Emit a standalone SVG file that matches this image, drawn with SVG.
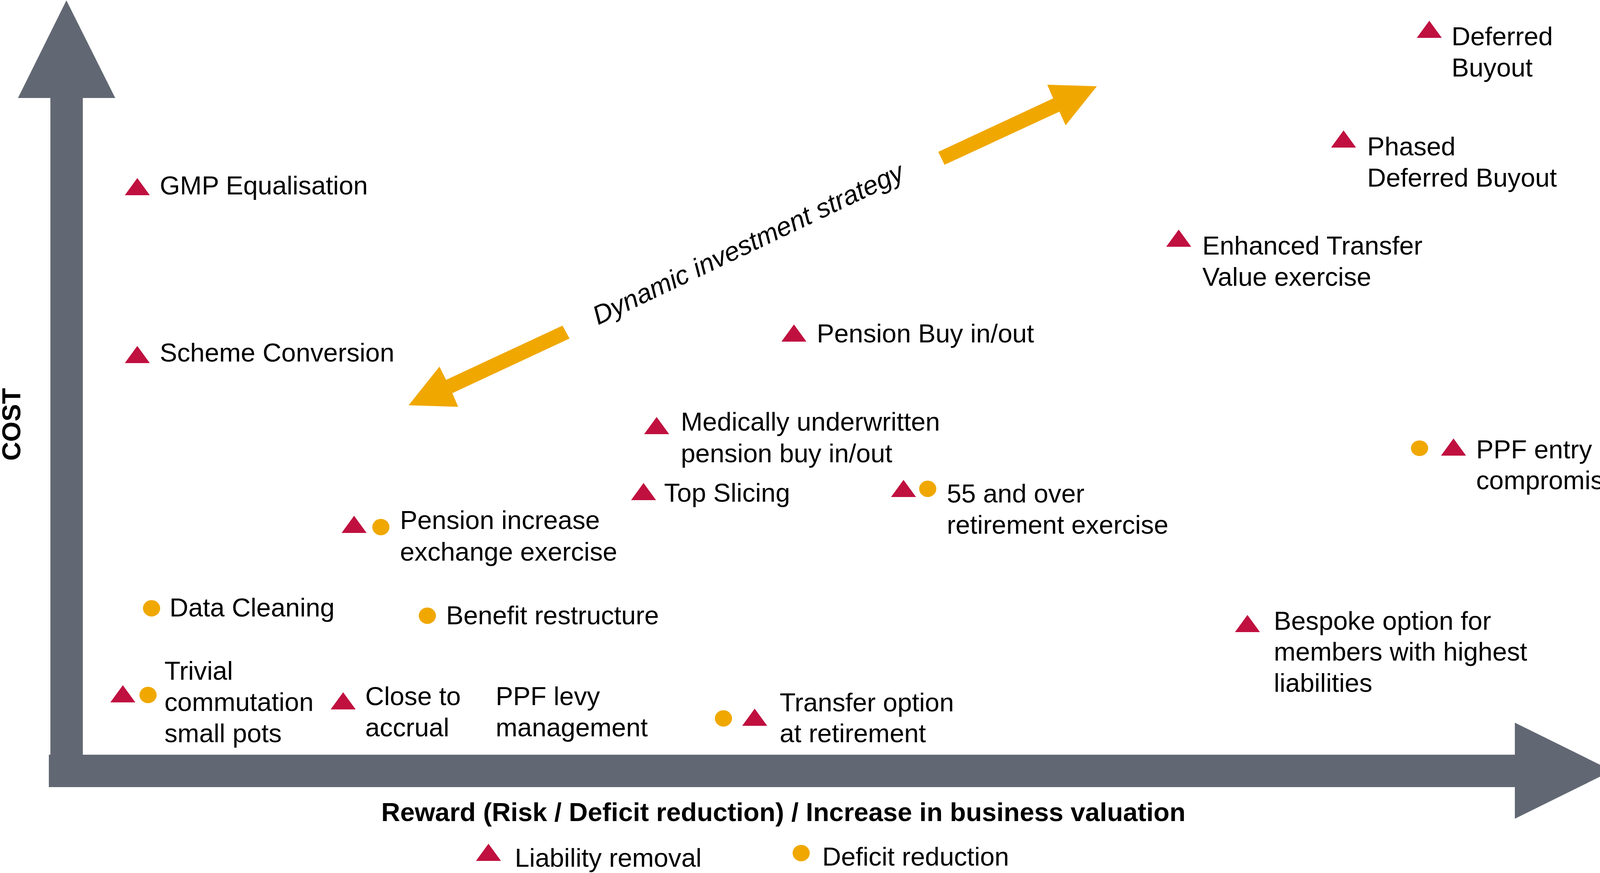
<svg xmlns="http://www.w3.org/2000/svg" xmlns:xlink="http://www.w3.org/1999/xlink" width="4143" height="2236" viewBox="0 0 4143 2236">
<style>
  text { font-family: "Liberation Sans", Arial, sans-serif; font-size: 66.7px; fill: #000; }
  .bold { font-weight: bold; font-size: 67px; }
  .ital { font-style: italic; font-size: 68px; }
  .tri { fill: #C0103F; }
  .dot { fill: #F0A800; }
  .axis { fill: #626873; }
  .dyn { fill: #F0A800; }
</style>
<defs>
  <path id="tri" d="M0,-44 L32,0 L-32,0 Z"/>
</defs>
<rect x="0" y="0" width="4143" height="2236" fill="#fff"/>

<g id="axes">
  <polygon class="axis" points="170,1 295,251 212,251 212,1933 3878,1933 3878,1851 4127,1974 3878,2097 3878,2016 125,2016 125,1933 129,1933 129,251 46,251"/>
</g>

<g id="connectors">
  <polygon class="dyn" points="2402,389 2696,252 2681,217 2808,221 2728,321 2712,286 2418,422"/>
  <polygon class="dyn" points="1440,834 1142,973 1125,939 1046,1038 1173,1042 1158,1007 1458,867"/>
  <text class="ital" text-anchor="middle" transform="translate(1925,645) rotate(-25.5)">Dynamic investment strategy</text>
</g>

<g id="axis-labels">
  <text class="bold" x="976" y="2103">Reward (Risk / Deficit reduction) / Increase in business valuation</text>
  <text class="bold" text-anchor="middle" transform="translate(52,1087) rotate(-90)">COST</text>
</g>

<g id="gmp-equalisation">
  <use xlink:href="#tri" class="tri" x="351.5" y="500"/>
  <text x="409" y="498">GMP Equalisation</text>
</g>
<g id="scheme-conversion">
  <use xlink:href="#tri" class="tri" x="351.5" y="930"/>
  <text x="409" y="926">Scheme Conversion</text>
</g>
<g id="deferred-buyout">
  <use xlink:href="#tri" class="tri" x="3659" y="97"/>
  <text x="3716" y="116">Deferred</text>
  <text x="3716" y="196">Buyout</text>
</g>
<g id="phased-deferred-buyout">
  <use xlink:href="#tri" class="tri" x="3439.5" y="378"/>
  <text x="3500" y="398">Phased</text>
  <text x="3500" y="478">Deferred Buyout</text>
</g>
<g id="enhanced-transfer">
  <use xlink:href="#tri" class="tri" x="3017.5" y="632"/>
  <text x="3078" y="652">Enhanced Transfer</text>
  <text x="3078" y="732">Value exercise</text>
</g>
<g id="pension-buy-in-out">
  <use xlink:href="#tri" class="tri" x="2032.5" y="875"/>
  <text x="2091" y="877">Pension Buy in/out</text>
</g>
<g id="medically-underwritten">
  <use xlink:href="#tri" class="tri" x="1681" y="1112"/>
  <text x="1743" y="1103">Medically underwritten</text>
  <text x="1743" y="1184">pension buy in/out</text>
</g>
<g id="top-slicing">
  <use xlink:href="#tri" class="tri" x="1647.5" y="1281"/>
  <text x="1700" y="1285">Top Slicing</text>
</g>
<g id="fifty-five-and-over">
  <use xlink:href="#tri" class="tri" x="2313" y="1273"/>
  <ellipse class="dot" cx="2375" cy="1252" rx="22" ry="21"/>
  <text x="2424" y="1287">55 and over</text>
  <text x="2424" y="1367">retirement exercise</text>
</g>
<g id="ppf-entry-compromise">
  <ellipse class="dot" cx="3634" cy="1148" rx="22" ry="20"/>
  <use xlink:href="#tri" class="tri" x="3721" y="1167"/>
  <text x="3779" y="1174">PPF entry</text>
  <text x="3779" y="1253">compromise</text>
</g>
<g id="pension-increase-exchange">
  <use xlink:href="#tri" class="tri" x="906.5" y="1365"/>
  <ellipse class="dot" cx="975" cy="1350" rx="22" ry="21"/>
  <text x="1024" y="1355">Pension increase</text>
  <text x="1024" y="1436">exchange exercise</text>
</g>
<g id="data-cleaning">
  <ellipse class="dot" cx="388" cy="1558" rx="22" ry="21"/>
  <text x="434" y="1579">Data Cleaning</text>
</g>
<g id="benefit-restructure">
  <ellipse class="dot" cx="1094" cy="1577" rx="22" ry="21"/>
  <text x="1142" y="1599">Benefit restructure</text>
</g>
<g id="trivial-commutation">
  <use xlink:href="#tri" class="tri" x="314.5" y="1799"/>
  <ellipse class="dot" cx="379" cy="1780" rx="22" ry="21"/>
  <text x="421" y="1741">Trivial</text>
  <text x="421" y="1821">commutation</text>
  <text x="421" y="1901">small pots</text>
</g>
<g id="close-to-accrual">
  <use xlink:href="#tri" class="tri" x="878.5" y="1817"/>
  <text x="935" y="1806">Close to</text>
  <text x="935" y="1886">accrual</text>
</g>
<g id="ppf-levy-management">
  <text x="1269" y="1806">PPF levy</text>
  <text x="1269" y="1886">management</text>
</g>
<g id="transfer-option">
  <ellipse class="dot" cx="1852" cy="1840" rx="22" ry="21"/>
  <use xlink:href="#tri" class="tri" x="1932" y="1859"/>
  <text x="1996" y="1822">Transfer option</text>
  <text x="1996" y="1901">at retirement</text>
</g>
<g id="bespoke-option">
  <use xlink:href="#tri" class="tri" x="3193.5" y="1619"/>
  <text x="3261" y="1613">Bespoke option for</text>
  <text x="3261" y="1692">members with highest</text>
  <text x="3261" y="1772">liabilities</text>
</g>

<g id="legend">
  <use xlink:href="#tri" class="tri" x="1250.5" y="2205"/>
  <text x="1318" y="2220">Liability removal</text>
  <ellipse class="dot" cx="2051" cy="2185" rx="22" ry="21"/>
  <text x="2105" y="2217">Deficit reduction</text>
</g>
</svg>
